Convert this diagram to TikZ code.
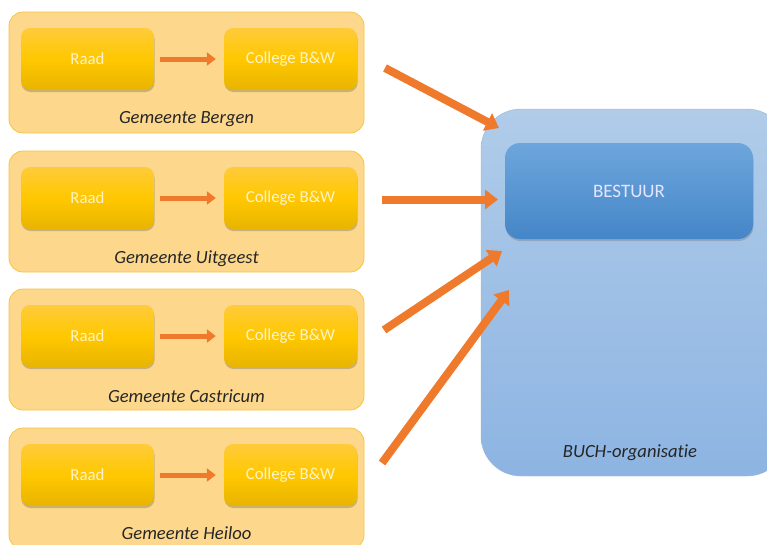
\documentclass[tikz,border=0pt]{standalone}
\usepackage{fontspec}
\setmainfont{Carlito}[RawFeature={-liga}]
\usetikzlibrary{arrows.meta,shadows,positioning}
\definecolor{outerfill}{HTML}{FDD88C}
\definecolor{outerline}{HTML}{F8C440}
\definecolor{innertop}{HTML}{FFCB3A}
\definecolor{innermid}{HTML}{FFC800}
\definecolor{innerbot}{HTML}{E8B400}
\definecolor{bluetop}{HTML}{B0CCE9}
\definecolor{bluebot}{HTML}{8DB4E2}
\definecolor{besttop}{HTML}{6DA6DC}
\definecolor{bestbot}{HTML}{4586C8}
\definecolor{arr}{HTML}{F07A2C}
\definecolor{paletext}{HTML}{FFF3C8}
\tikzset{
  gembox/.style={draw=outerline, line width=0.8pt, fill=outerfill, rounded corners=14pt, minimum width=355pt, minimum height=121pt, inner sep=0pt},
  inbox/.style={rounded corners=9pt, minimum width=133pt, minimum height=62pt, top color=innertop, bottom color=innerbot, middle color=innermid, inner sep=0pt, text=paletext, font=\fontsize{16.8}{16.8}\selectfont,
    drop shadow={shadow xshift=0.5pt, shadow yshift=-2pt, opacity=0.35, fill=black!60}},
  gemlabel/.style={font=\itshape\fontsize{18.6}{18.6}\selectfont, text=black!85},
  smallarr/.style={draw=arr, line width=5pt, -{Triangle[length=9pt, width=13pt]}},
  bigarr/.style={draw=arr, line width=8pt, -{Triangle[length=13pt, width=19pt]}},
}
\begin{document}
\begin{tikzpicture}[x=1pt,y=-1pt]
\useasboundingbox (0,0) rectangle (767,544);
\begin{scope}
\clip (0,0) rectangle (767,544);
% BUCH organisation
\node[rounded corners=40pt, top color=bluetop, bottom color=bluebot, draw=bluetop!90!black, line width=0.4pt, minimum width=306pt, minimum height=367pt, inner sep=0pt] (buch) at (634,292.5) {};
\node[rounded corners=15pt, top color=besttop, bottom color=bestbot, minimum width=248pt, minimum height=96pt, inner sep=0pt, text=white!90!blue, font=\fontsize{19}{19}\selectfont, drop shadow={shadow xshift=0.5pt, shadow yshift=-2pt, opacity=0.3, fill=black!60}] (bestuur) at (629,191) {BESTUUR};
\node[font=\itshape\fontsize{18.6}{18.6}\selectfont, text=black!85] (buchlabel) at (630,453) {BUCH-organisatie};
% Gemeenten
\foreach \n/\y/\name/\ly in {1/72.5/Bergen/47, 2/211.5/Uitgeest/47, 3/349.5/Castricum/47, 4/488.5/Heiloo/44.5}{
  \node[gembox] (g\n) at (186.5,\y) {};
  \node[inbox] (r\n) at (87.5,\y-13.5) {Raad};
  \node[inbox] (c\n) at (290.5,\y-13.5) {College B\&W};
  \node[gemlabel] (l\n) at (186.5,\y+\ly) {Gemeente \name};
  \draw[smallarr] ([xshift=6pt]r\n.east) -- ([xshift=-8pt]c\n.west);
}
% big arrows
\coordinate (s1) at (385,68);
\coordinate (t1) at (499,128);
\coordinate (s2) at (382,199.5);
\coordinate (t2) at (498,199.5);
\coordinate (s3) at (384,330);
\coordinate (t3) at (502,251);
\coordinate (s4) at (382,463);
\coordinate (t4) at (509,290);
\foreach \i in {1,2,3,4}{
  \draw[bigarr] (s\i) -- (t\i);
}
\end{scope}
\end{tikzpicture}
\end{document}
